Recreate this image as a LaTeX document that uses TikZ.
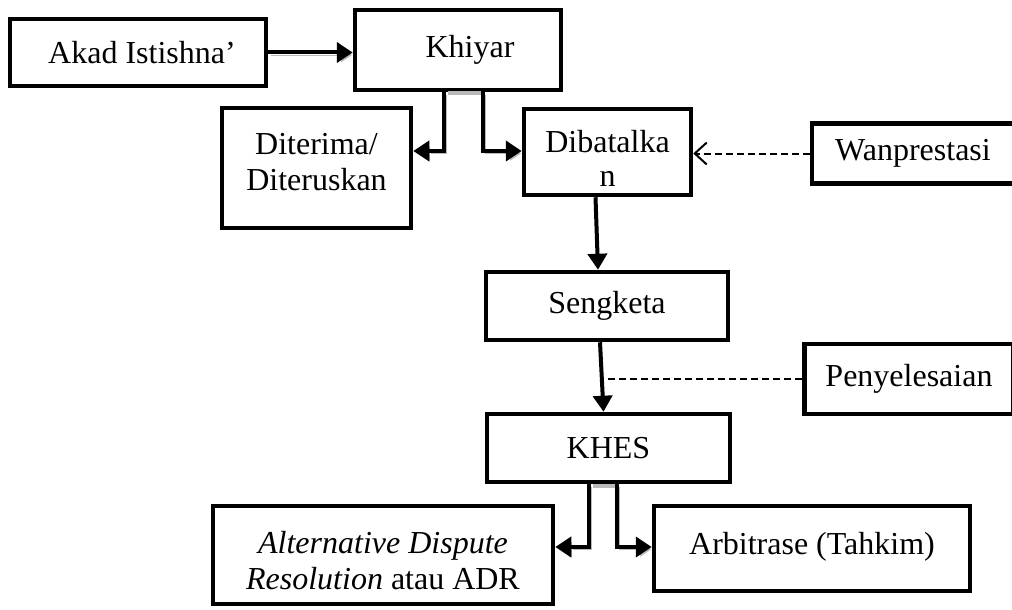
\documentclass[tikz,border=0pt]{standalone}
\usepackage{fontspec}
\setmainfont{Liberation Serif}
\usetikzlibrary{arrows.meta,calc}
\begin{document}
\begin{tikzpicture}[x=1pt,y=-1pt,
  box/.style={draw=black, line width=4.5pt, rectangle, inner sep=2pt, align=center,
    font=\fontsize{32}{36}\selectfont},
  conn/.style={line width=4pt, -{Triangle[length=16pt,width=20pt]},
    preaction={draw=gray!55, transform canvas={shift={(2.5pt,-2.5pt)}}}},
  plainconn/.style={line width=4pt, -{Triangle[length=16pt,width=19pt]}},
  dashconn/.style={line width=2pt, dash pattern=on 7pt off 4pt},
  shade/.style={draw=gray!55, line width=4pt}
]
\useasboundingbox[fill=white] (0,0) rectangle (1012,610);

% boxes
\node[box, minimum width=256pt, minimum height=67pt] (akad) at (138,52.5) {\hspace*{8pt}Akad Istishna’};
\node[box, minimum width=206pt, minimum height=80pt] (khiyar) at (458,50) {\hspace*{24pt}\raisebox{8pt}{Khiyar}};
\node[box, minimum width=189pt, minimum height=120pt] (diter) at (316.5,168) {Diterima/\\Diteruskan\rule[-12pt]{0pt}{12pt}};
\node[box, minimum width=167pt, minimum height=86pt] (dibat) at (607.5,152) {\rule{0pt}{34pt}Dibatalka\\[-2pt]n};
\node[box, minimum width=202pt, minimum height=60pt] (wanp) at (913,153.5) {Wanprestasi};
\node[box, minimum width=242pt, minimum height=68pt] (seng) at (607,306) {Sengketa};
\node[box, minimum width=209pt, minimum height=70pt] (peny) at (909,379) {Penyelesaian};
\node[box, minimum width=243pt, minimum height=68pt] (khes) at (608.5,448) {KHES};
\node[box, minimum width=340pt, minimum height=98pt] (adr) at (383,555) {\rule{0pt}{34pt}\textit{Alternative Dispute}\\\textit{Resolution} atau ADR};
\node[box, minimum width=316pt, minimum height=85pt, text depth=10pt] (arb) at (812,548.5) {Arbitrase (Tahkim)};

% shadow bars between split connectors
\draw[shade] (448,93) -- (481,93);
\draw[shade] (593,486) -- (615,486);

% connectors
\draw[conn] (akad.east) -- (akad.east -| khiyar.west);
\draw[conn] ($(khiyar.south)+(-14,0)$) |- ($(diter.east)+(0,-17)$);
\draw[conn] ($(khiyar.south)+(25,0)$) |- ($(dibat.west)+(0,-1)$);
\draw[dashconn, -{Straight Barb[length=12pt,width=22pt,line width=2pt]}] (wanp.west) -- (wanp.west -| dibat.east);
\draw[plainconn] ($(dibat.south)+(-12,0)$) -- ($(seng.north)+(-9,0)$);
\draw[plainconn] ($(seng.south)+(-7,0)$) -- ($(khes.north)+(-5,0)$);
\coordinate (pj) at (603,379);
\draw[dashconn] (peny.west) -- (pj);
\draw[conn] ($(khes.south)+(-19.5,0)$) |- ($(adr.east)+(0,-8)$);
\draw[conn] ($(khes.south)+(8.5,0)$) |- ($(arb.west)+(0,-1.5)$);
\end{tikzpicture}
\end{document}
